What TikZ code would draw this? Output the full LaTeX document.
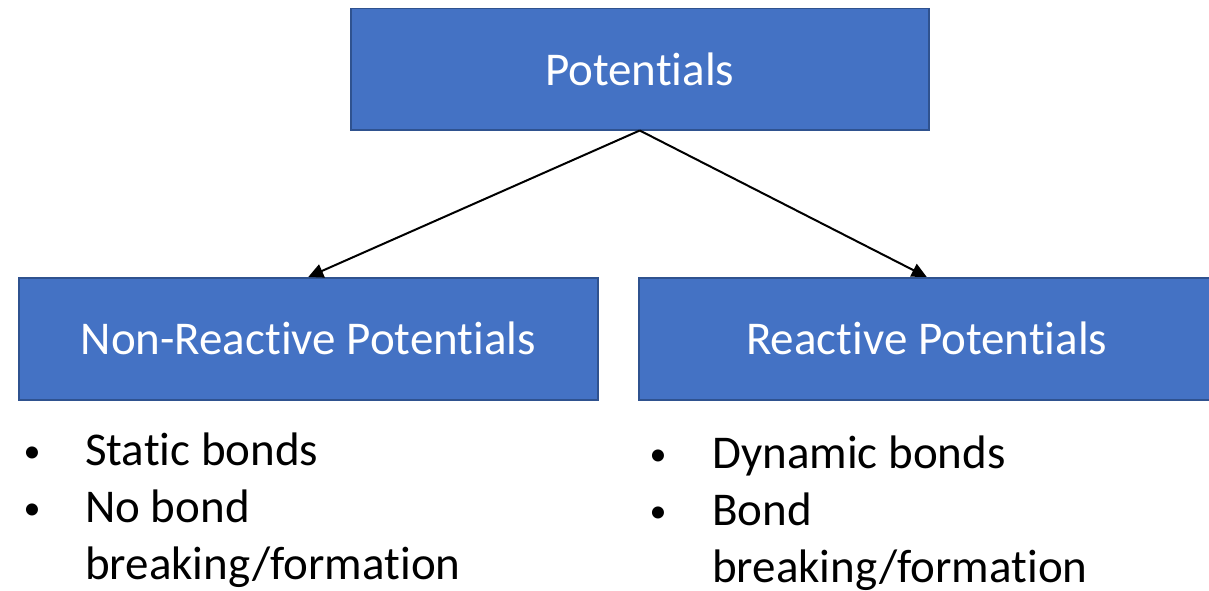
\documentclass[tikz,border=0pt]{standalone}
\usepackage{fontspec}
\setmainfont{Carlito}[RawFeature={-liga}]
\usetikzlibrary{arrows.meta}
\definecolor{boxfill}{HTML}{4472C4}
\definecolor{boxline}{HTML}{2F528F}
\tikzset{
  box/.style={draw=boxline, fill=boxfill, line width=1.5pt, text=white,
    font=\fontsize{47}{55}\selectfont, inner sep=0pt, anchor=north west},
  conn/.style={draw=black, line width=2pt, -{Triangle[length=15pt,width=14pt]}},
  item/.style={anchor=base west, inner sep=0pt, font=\fontsize{47}{55}\selectfont},
  dot/.style={anchor=base, inner sep=0pt, font=\fontsize{34}{55}\selectfont}
}
\begin{document}
\begin{tikzpicture}[x=1pt,y=-1pt]
\useasboundingbox (0,0) rectangle (1209,591);
\node[box, minimum width=578pt, minimum height=121pt] (top) at (350,8) {Potentials};
\node[box, minimum width=579pt, minimum height=122pt] (left) at (18,277) {Non-Reactive Potentials};
\node[box, minimum width=576pt, minimum height=122pt] (right) at (638,277) {Reactive Potentials};
\draw[conn] (top.south) -- (left.north);
\draw[conn] (top.south) -- (right.north);
% left bullets
\node[dot] (lb1) at (32,462) {•};
\node[item] (lt1) at (85,465) {Static bonds};
\node[dot] (lb2) at (32,519) {•};
\node[item] (lt2) at (85,522) {No bond};
\node[item] (lt3) at (85,579) {breaking/formation};
% right bullets
\node[dot] (rb1) at (658,465) {•};
\node[item] (rt1) at (712,468) {Dynamic bonds};
\node[dot] (rb2) at (658,522) {•};
\node[item] (rt2) at (712,525) {Bond};
\node[item] (rt3) at (712,582) {breaking/formation};
\end{tikzpicture}
\end{document}
